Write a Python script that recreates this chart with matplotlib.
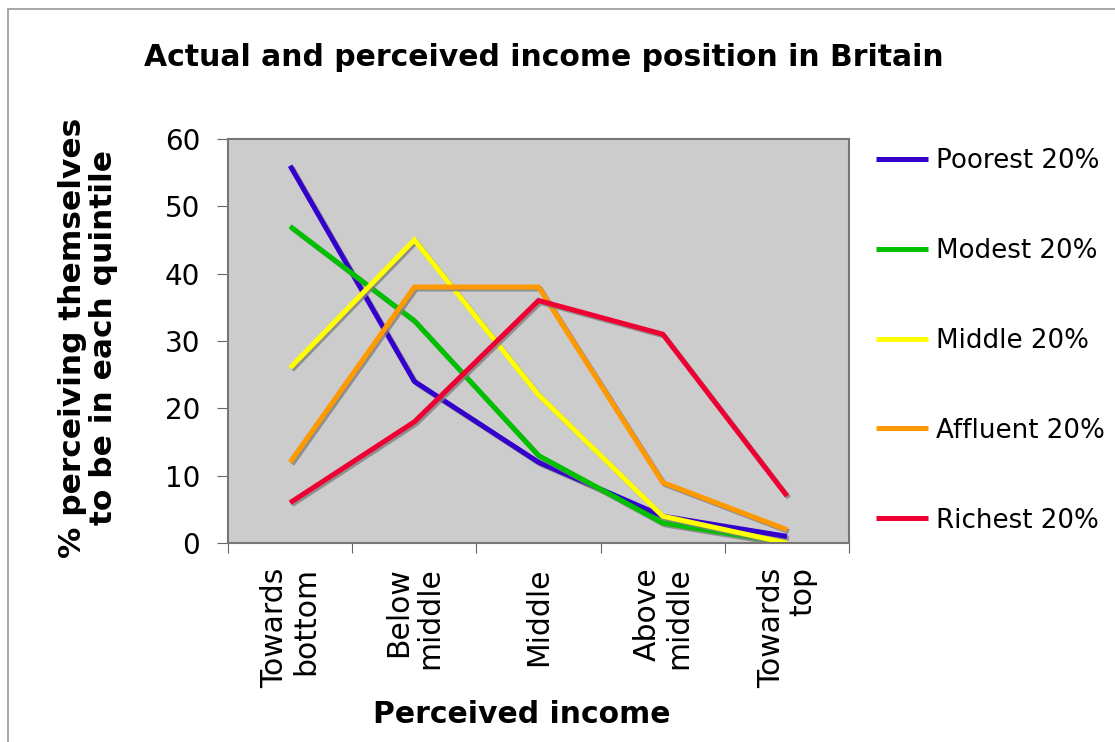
import matplotlib
matplotlib.use('Agg')
import matplotlib.pyplot as plt
import matplotlib.patheffects as pe
from matplotlib.patches import Rectangle

# perceived income quintiles
categories = ['Towards\nbottom', 'Below\nmiddle', 'Middle', 'Above\nmiddle', 'Towards\ntop']

# % of each actual income group placing themselves in each quintile
poorest = [56, 24, 12, 4, 1]
modest = [47, 33, 13, 3, 0]
middle = [26, 45, 22, 4, 0]
affluent = [12, 38, 38, 9, 2]
richest = [6, 18, 36, 31, 7]

series = [('Poorest 20%', poorest, '#3300CC'),
          ('Modest 20%', modest, '#00C000'),
          ('Middle 20%', middle, '#FFFF00'),
          ('Affluent 20%', affluent, '#FF9900'),
          ('Richest 20%', richest, '#EE0033')]

plt.rcParams['font.family'] = ['DejaVu Sans']

fig = plt.figure(figsize=(11.15, 7.42), dpi=100)
ax = fig.add_axes([0.2045, 0.268, 0.557, 0.545])
ax.set_facecolor('#CCCCCC')

shadow = [pe.SimpleLineShadow(offset=(1.4, -1.4), shadow_color='#808080', alpha=0.8),
          pe.Normal()]
xs = [i + 0.5 for i in range(len(categories))]
for name, vals, col in series:
    ax.plot(xs, vals, color=col, lw=3.6, label=name, path_effects=shadow,
            solid_joinstyle='miter', solid_capstyle='butt')

ax.set_xlim(0, 5)
ax.set_ylim(0, 60)
ax.set_yticks(range(0, 61, 10))
ax.tick_params(axis='y', labelsize=20, length=8, color='#666666', pad=12)
ax.set_xticks(range(0, 6))
ax.set_xticklabels([])
ax.tick_params(axis='x', length=7, color='#666666')
for s in ax.spines.values():
    s.set_color('#777777')
    s.set_linewidth(1.5)

for x, lab in zip(xs, categories):
    ax.text(x, -3.6, lab, rotation=90, ha='center', va='top', multialignment='right',
            fontsize=21.5, linespacing=1.1)

fig.text(0.488, 0.923, 'Actual and perceived income position in Britain',
         ha='center', va='center', fontsize=21.5, fontweight='bold')
fig.text(0.079, 0.545, '% perceiving themselves\nto be in each quintile', rotation=90,
         ha='center', va='center', fontsize=22.5, fontweight='bold', linespacing=1.1)
fig.text(0.468, 0.037, 'Perceived income', ha='center', va='center',
         fontsize=21.5, fontweight='bold')

leg = fig.legend(*ax.get_legend_handles_labels(), loc='upper left',
                 bbox_to_anchor=(0.776, 0.815), frameon=False, borderaxespad=0,
                 fontsize=18.8, labelspacing=2.45, handlelength=2.0, handletextpad=0.3)
for h in leg.get_lines():
    h.set_linewidth(3.6)
    h.set_path_effects([])

# page frame, only its top and left edges fall inside the image
fig.patches.append(Rectangle((8 / 1115, -0.01), 1.02, 1 - 9 / 742 + 0.01,
                             transform=fig.transFigure, fill=False,
                             edgecolor='#999999', lw=1.2))

fig.savefig('out.png', dpi=100)
